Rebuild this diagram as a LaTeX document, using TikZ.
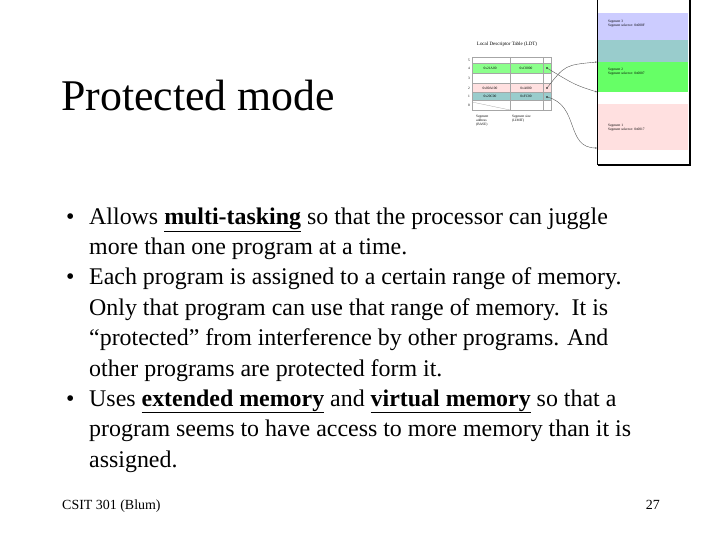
\documentclass[tikz,border=0pt]{standalone}
\usepackage{fontspec}
\setmainfont{Liberation Serif}
\usetikzlibrary{arrows.meta}
\begin{document}
\begin{tikzpicture}[x=1bp,y=-1bp,
 line/.style={anchor=base west,inner sep=0,font=\fontsize{24}{28}\selectfont},
 bul/.style={anchor=base west,inner sep=0,font=\fontsize{24}{28}\selectfont},
 tiny/.style={inner sep=0,font=\fontsize{3.5}{4}\selectfont},
 cell/.style={draw=gray!70,line width=0.3pt},
 conn/.style={gray!70!black,line width=0.4pt,-{Stealth[length=2pt]}}]
\useasboundingbox (0,0) rectangle (720,540);
\fill[white] (0,0) rectangle (720,540);
\node[anchor=base west,inner sep=0,font=\fontsize{44}{48}\selectfont] (title) at (61,111) {Protected mode};
% bullets
\node[bul] (b1) at (66,225) {•};
\node[bul] (b2) at (66,285) {•};
\node[bul] (b3) at (66,406) {•};
\node[line] (l1) at (89,225) {Allows \textbf{\underline{multi-tasking}} so that the processor can juggle};
\node[line] (l2) at (89,255) {more than one program at a time.};
\node[line] (l3) at (89,285) {Each program is assigned to a certain range of memory.};
\node[line] (l4) at (89,315) {Only that program can use that range of memory.\ \ It is};
\node[line] (l5) at (89,345.5) {“protected” from interference by other programs. And};
\node[line] (l6) at (89,376) {other programs are protected form it.};
\node[line] (l7) at (89,406) {Uses \textbf{\underline{extended memory}} and \textbf{\underline{virtual memory}} so that a};
\node[line] (l8) at (89,436.5) {program seems to have access to more memory than it is};
\node[line] (l9) at (89,467) {assigned.};
\node[anchor=base west,inner sep=0,font=\fontsize{14}{16}\selectfont] (foot) at (62,509) {CSIT 301 (Blum)};
\node[anchor=base east,inner sep=0,font=\fontsize{14}{16}\selectfont] (pg) at (660,509) {27};
% memory
\fill[blue!20] (597,13) rectangle (688,40);
\fill[teal!40] (597,40) rectangle (688,62);
\fill[green!60] (597,62) rectangle (688,92);
\fill[red!12] (597,104) rectangle (688,150);
\draw[line width=0.4pt] (597,0) -- (597,164) -- (689,164) -- (689,0);
\draw[line width=1.2pt] (690,0) -- (690,165) -- (598,165);
\node[tiny,anchor=west,align=left] (s3) at (608,24) {Segment 3\\Segment selector: 0x000F};
\node[tiny,anchor=west,align=left] (s2) at (608,72) {Segment 2\\Segment selector: 0x0007};
\node[tiny,anchor=west,align=left] (s1) at (608,128) {Segment 1\\Segment selector: 0x0017};
\coordinate (m2t) at (597,62);
\coordinate (m2b) at (597,92);
\coordinate (m1) at (597,148);
% table
\node[tiny,font=\fontsize{5}{6}\selectfont] (ldt) at (507,44) {Local Descriptor Table (LDT)};
\fill[green!45] (472,63) rectangle (551,73);
\fill[red!12] (472,83) rectangle (551,92);
\fill[teal!40] (472,92) rectangle (551,100);
\foreach \y in {57,63,73,83,92,100,110} \draw[cell] (472,\y) -- (551,\y);
\draw[cell] (472,57) rectangle (551,110);
\draw[cell] (510,57) -- (510,110);
\draw[cell] (543,57) -- (543,110);
\draw[cell] (472,102) -- (510,110);
\foreach \y/\n in {60/5,68/4,78/3,88/2,96/1,105/0} \node[tiny] at (469,\y) {\n};
\node[tiny] at (490,68) {0x21A00};
\node[tiny] at (526,68) {0xC0000};
\node[tiny] at (490,88) {0x00A100};
\node[tiny] at (526,88) {0xA000};
\node[tiny] at (490,96) {0x20C00};
\node[tiny] at (526,96) {0xFC00};
\node[tiny,anchor=north west,align=left] at (476,115) {Segment\\address\\(BASE)};
\node[tiny,anchor=north west,align=left] at (512,115) {Segment size\\(LIMIT)};
\fill (547,68) circle (0.8) coordinate (p4);
\fill (547,88) circle (0.8) coordinate (p2);
\fill (547,97) circle (0.8) coordinate (p1);
\draw[conn] (p4) .. controls (575,85) .. (m2b);
\draw[conn] (p2) .. controls (565,65) .. (m2t);
\draw[conn] (p1) .. controls (580,105) and (565,148) .. (m1);
\end{tikzpicture}
\end{document}
